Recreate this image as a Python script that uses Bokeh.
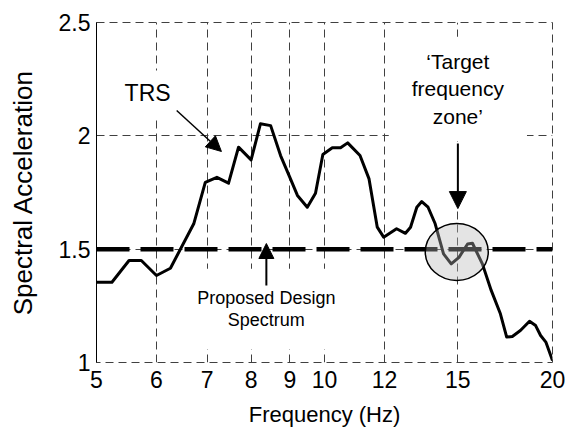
import math
from bokeh.plotting import figure
from bokeh.models import FixedTicker, Label, Arrow, NormalHead, Range1d
from bokeh.embed import file_html
from bokeh.resources import INLINE

# ---- data -------------------------------------------------------------
freq = [5.0, 5.24, 5.52, 5.73, 6.0, 6.26, 6.72, 6.96, 7.21, 7.47, 7.70, 8.0,
        8.23, 8.49, 8.75, 9.0, 9.21, 9.49, 9.73, 9.95, 10.24, 10.5, 10.73,
        11.14, 11.45, 11.74, 11.97, 12.45, 12.79, 12.99, 13.24, 13.44, 13.7,
        14.0, 14.36, 14.7, 15.05, 15.45, 15.68, 16.16, 16.6, 17.07, 17.4,
        17.7, 18.14, 18.65, 19.0, 19.29, 19.6, 20.0]
accel = [1.354, 1.354, 1.45, 1.45, 1.384, 1.416, 1.612, 1.795, 1.817, 1.791,
         1.95, 1.894, 2.053, 2.045, 1.913, 1.817, 1.737, 1.685, 1.747, 1.918,
         1.947, 1.947, 1.969, 1.913, 1.81, 1.597, 1.553, 1.59, 1.57, 1.597,
         1.685, 1.71, 1.685, 1.612, 1.479, 1.435, 1.464, 1.523, 1.526, 1.435,
         1.318, 1.215, 1.112, 1.115, 1.141, 1.182, 1.163, 1.119, 1.09, 1.009]

design_freq = [5, 20]
design_accel = [1.5, 1.5]

x_ticks = [5, 6, 7, 8, 9, 10, 12, 15, 20]
x_tick_labels = ["5", "6", "7", "8", "9", "10", "12", "15", "20"]
y_ticks = [1, 1.5, 2, 2.5]
y_tick_labels = ["1", "1.5", "2", "2.5"]

# annotation anchors (data coordinates)
zone_center = (14.95, 1.488)
trs_label_pos = (5.84, 2.187)
trs_arrow = (6.38, 2.112, 7.31, 1.931)
zone_label_pos = (15.0, 2.207)
zone_arrow = (15.0, 1.966, 15.0, 1.679)
design_label_pos = (8.38, 1.236)
design_arrow = (8.38, 1.34, 8.38, 1.525)

FONT = "Liberation Sans"
GRID = "#404040"

p = figure(frame_width=456, frame_height=340, x_axis_type="log",
           x_range=Range1d(5, 20), y_range=Range1d(1, 2.5),
           output_backend="svg", toolbar_location=None,
           min_border_left=96, min_border_right=14,
           min_border_top=22, min_border_bottom=60)
p.background_fill_color = "white"
p.border_fill_color = "white"
p.outline_line_color = GRID
p.outline_line_dash = "8 5"
p.outline_line_width = 1

p.xaxis.ticker = FixedTicker(ticks=x_ticks, minor_ticks=[])
p.yaxis.ticker = FixedTicker(ticks=y_ticks, minor_ticks=[])
p.xaxis.major_label_overrides = {t: l for t, l in zip(x_ticks, x_tick_labels)}
p.yaxis.major_label_overrides = {t: l for t, l in zip(y_ticks, y_tick_labels)}

for ax in (p.xaxis, p.yaxis):
    ax.major_tick_in = 0
    ax.major_tick_out = 0
    ax.minor_tick_in = 0
    ax.minor_tick_out = 0
    ax.major_label_text_font = FONT
    ax.major_label_text_font_size = "23px"
    ax.major_label_text_color = "black"
    ax.axis_label_text_font = FONT
    ax.axis_label_text_font_style = "normal"
    ax.axis_label_text_color = "black"
p.xaxis.axis_line_color = None
p.yaxis.axis_line_color = "black"
p.yaxis.axis_line_width = 1
p.xaxis.major_label_standoff = 8
p.yaxis.major_label_standoff = 6

p.xaxis.axis_label = "Frequency (Hz)"
p.xaxis.axis_label_text_font_size = "22px"
p.xaxis.axis_label_standoff = 11
p.yaxis.axis_label = "Spectral Acceleration"
p.yaxis.axis_label_text_font_size = "26px"
p.yaxis.axis_label_standoff = 18

p.grid.grid_line_color = GRID
p.grid.grid_line_dash = "8 5"
p.grid.grid_line_width = 1

# curves
p.line(freq, accel, line_width=3, color="black", line_join="round")
p.line(design_freq, design_accel, line_width=4.5, color="black", line_dash="33 11")

# target zone circle (translucent, over curve)
p.ellipse(x=[zone_center[0]], y=[zone_center[1]], width=63, height=57,
          width_units="screen", height_units="screen",
          fill_color="#b8b8b8", fill_alpha=0.38, line_color="black", line_width=1.5)

# labels
p.add_layout(Label(x=trs_label_pos[0], y=trs_label_pos[1], text="TRS",
                   text_font=FONT, text_font_size="23px", text_color="black",
                   text_align="center", text_baseline="middle",
                   background_fill_color="white", padding=10))
p.add_layout(Label(x=zone_label_pos[0], y=zone_label_pos[1],
                   text="\u2018Target\nfrequency\nzone\u2019",
                   text_font=FONT, text_font_size="21px", text_color="black",
                   text_align="center", text_baseline="middle", text_line_height=1.2,
                   background_fill_color="white", padding=(23, 13)))
p.add_layout(Label(x=design_label_pos[0], y=design_label_pos[1],
                   text="Proposed Design\nSpectrum",
                   text_font=FONT, text_font_size="18px", text_color="black",
                   text_align="center", text_baseline="middle", text_line_height=1.12,
                   background_fill_color="white", padding=(12, 19)))

for (xs, ys, xe, ye), size, lw in ((trs_arrow, 15, 1.5), (zone_arrow, 17, 2), (design_arrow, 15, 2)):
    p.add_layout(Arrow(end=NormalHead(size=size, fill_color="black", line_color="black"),
                       x_start=xs, y_start=ys, x_end=xe, y_end=ye,
                       line_width=lw, line_color="black"))

open("out.html", "w").write(file_html(p, INLINE))
